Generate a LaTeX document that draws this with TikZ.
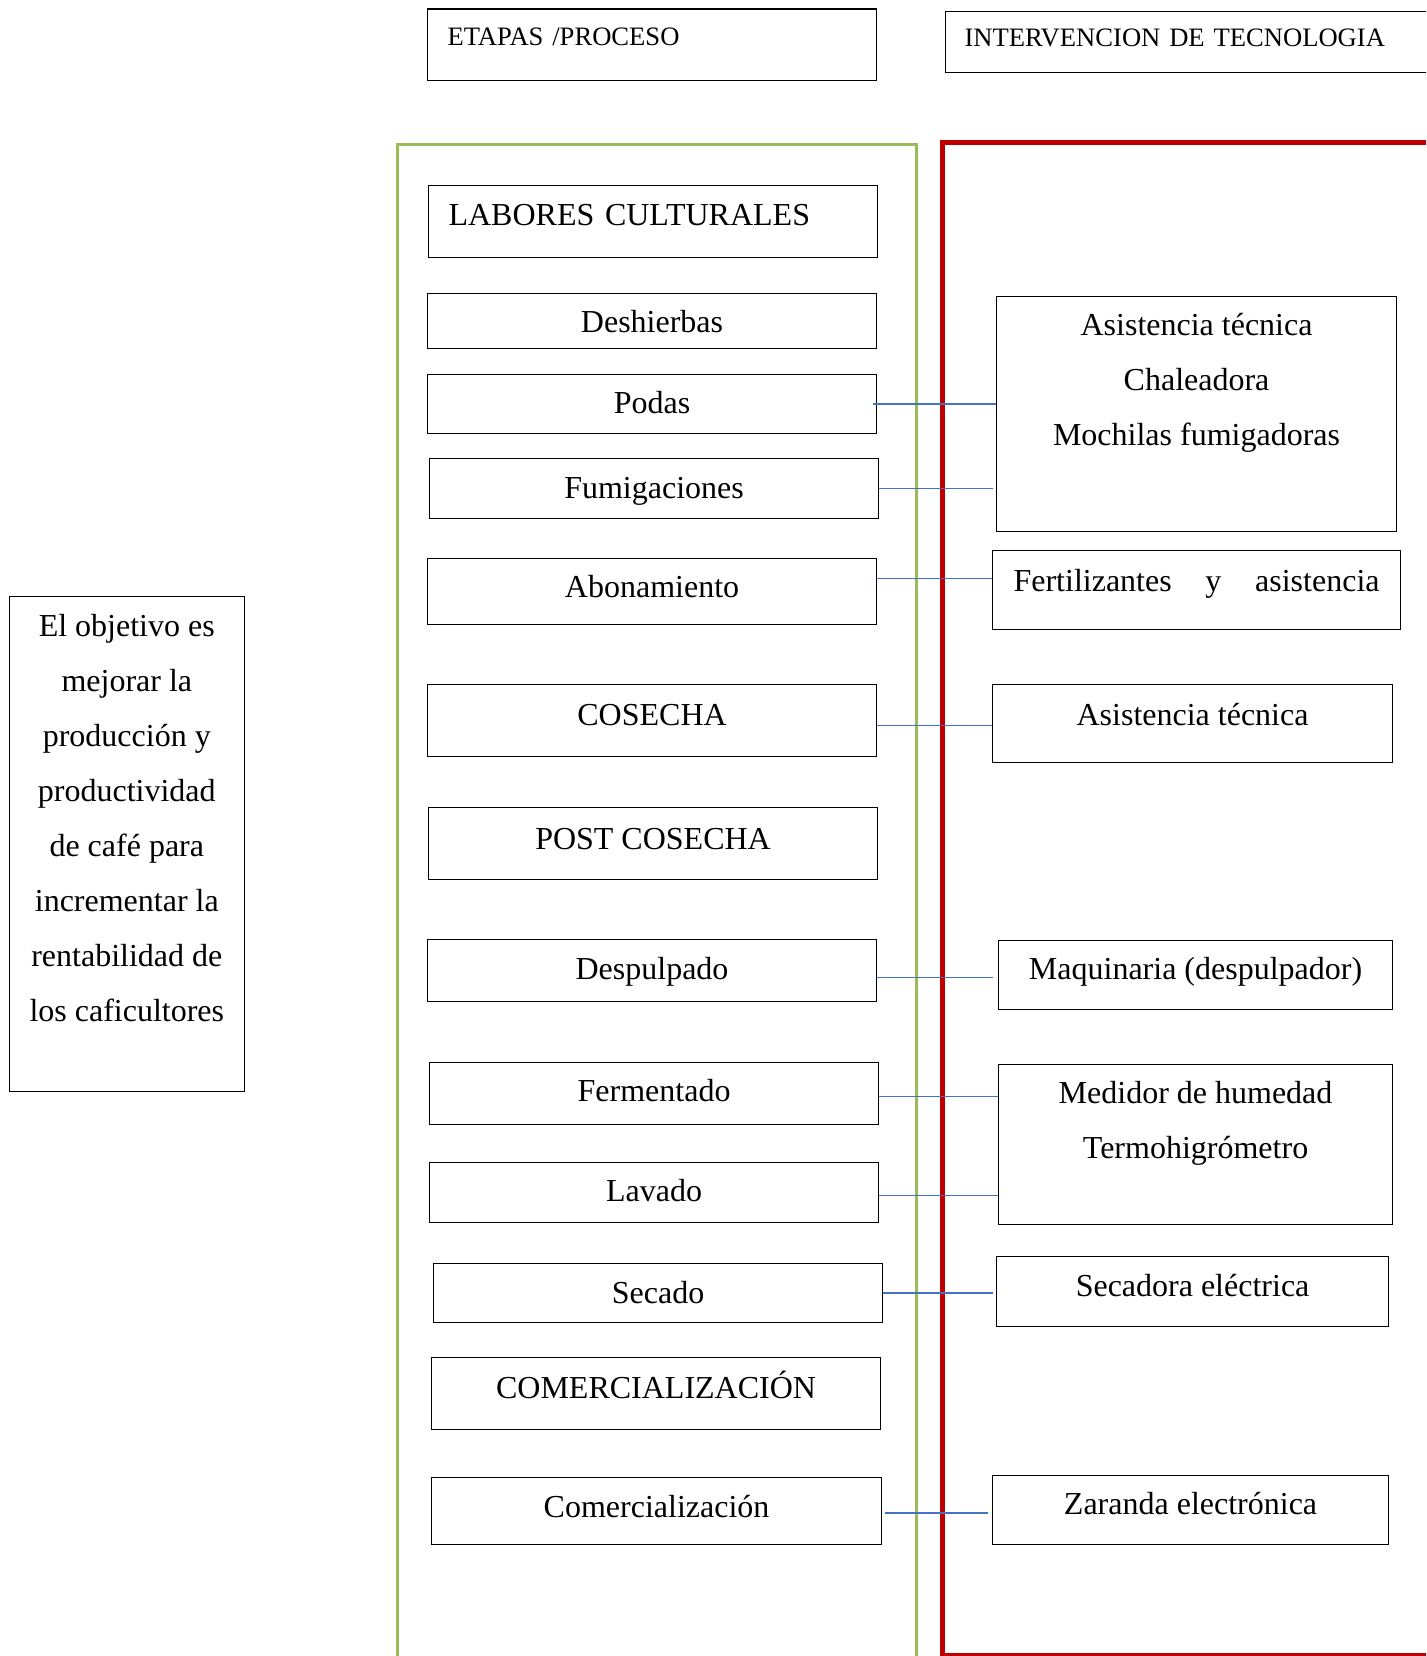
\documentclass[tikz,border=0pt]{standalone}
\usepackage{fontspec}
\setmainfont{Liberation Serif}
\definecolor{linkblue}{RGB}{68,114,196}
\definecolor{framegreen}{RGB}{155,187,89}
\definecolor{framered}{RGB}{192,0,0}
\newcommand\bodyfont{\fontsize{32}{55}\selectfont}
\newcommand\headfont{\fontsize{26.6}{32}\selectfont}
\begin{document}
\begin{tikzpicture}
	[x=1pt,y=-1pt,
	box/.style={rectangle,draw=black,line width=1.1pt,inner sep=0pt,anchor=north west,font=\bodyfont},
	stage/.style={box,minimum width=449pt},
	head/.style={box,font=\headfont,inner xsep=20pt,align=left},
	link/.style={draw=linkblue,line width=1.2pt}
	]
	\useasboundingbox (0,0) rectangle (1426,1656);
	\clip (0,0) rectangle (1426,1656);

	% column frames
	\draw[framegreen,line width=3pt] (397,1700) -- (397,145) -- (916,145) -- (916,1700);
	\draw[framered,line width=5pt] (942,143) rectangle (1450,1655);

	% headers
	\node[head,text width=409pt,text height=36.5pt,text depth=35pt] (etapas) at (427,8.5) {ETAPAS /PROCESO};
	\node[head,inner xsep=19pt,text width=462pt,text height=35.5pt,text depth=26pt] (interv) at (945,10.6) {INTERVENCION DE TECNOLOGIA};

	% objective (multi-line: baseline is the last line)
	\node[box,minimum width=235.5pt,text height=425pt,text depth=70pt,align=center] (goal) at (8.5,596)
		{El objetivo es\\mejorar la\\producción y\\productividad\\de café para\\incrementar la\\rentabilidad de\\los caficultores};

	% stages
	\node[stage,inner xsep=20pt,text width=409pt,align=left,text height=40pt,text depth=32pt] (labores) at (428,185) {LABORES CULTURALES};
	\node[stage,text height=39pt,text depth=16pt] (deshierbas) at (427,293) {Deshierbas};
	\node[stage,text height=39pt,text depth=20pt] (podas) at (427,374) {Podas};
	\node[stage,text height=40pt,text depth=20pt] (fumig) at (429,458) {Fumigaciones};
	\node[stage,text height=39pt,text depth=27pt] (abon) at (427,558) {Abonamiento};
	\node[stage,text height=40.5pt,text depth=31.5pt] (cosecha) at (427,684) {COSECHA};
	\node[stage,text height=41.5pt,text depth=30.5pt] (postcos) at (428,807) {POST COSECHA};
	\node[stage,text height=40pt,text depth=22pt] (desp) at (427,939) {Despulpado};
	\node[stage,text height=39pt,text depth=23pt] (ferm) at (429,1062) {Fermentado};
	\node[stage,text height=39pt,text depth=21pt] (lavado) at (429,1162) {Lavado};
	\node[stage,text height=40pt,text depth=19pt] (secado) at (433,1263) {Secado};
	\node[stage,text height=40.5pt,text depth=31.5pt] (comercC) at (431,1357) {COMERCIALIZACIÓN};
	\node[stage,minimum width=450pt,text height=40pt,text depth=27pt] (comerc) at (431,1477) {Comercialización};

	% technology
	\node[box,minimum width=400pt,text height=149pt,text depth=86pt,align=center] (tecA) at (996,296)
		{Asistencia técnica\\Chaleadora\\Mochilas fumigadoras};
	\node[box,minimum width=408pt,text height=41pt,text depth=38pt] (fert) at (992,550) {\makebox[366pt][s]{Fertilizantes y asistencia}};
	\node[box,minimum width=400pt,text height=41pt,text depth=37pt] (asist) at (992,684) {Asistencia técnica};
	\node[box,minimum width=394pt,text height=39pt,text depth=30pt] (maq) at (998,940) {Maquinaria (despulpador)};
	\node[box,minimum width=394pt,text height=94pt,text depth=66pt,align=center] (medidor) at (998,1064)
		{Medidor de humedad\\Termohigrómetro};
	\node[box,minimum width=392pt,text height=40pt,text depth=30pt] (secadora) at (996,1256) {Secadora eléctrica};
	\node[box,minimum width=396pt,text height=39pt,text depth=30pt] (zaranda) at (992,1475) {Zaranda electrónica};

	% links
	\draw[link,shorten <=-4pt] (podas.east) -- (podas.east -| tecA.west);
	\draw[link,shorten >=3pt] (fumig.east) -- (fumig.east -| tecA.west);
	\draw[link] ([yshift=13pt]abon.east) -- ([yshift=13pt]abon.east -| fert.west);
	\draw[link] ([yshift=-5pt]cosecha.east) -- ([yshift=-5pt]cosecha.east -| asist.west);
	\draw[link,shorten >=5pt] ([yshift=-7pt]desp.east) -- ([yshift=-7pt]desp.east -| maq.west);
	\draw[link] ([yshift=-3pt]ferm.east) -- ([yshift=-3pt]ferm.east -| medidor.west);
	\draw[link] ([yshift=-3pt]lavado.east) -- ([yshift=-3pt]lavado.east -| medidor.west);
	\draw[link,shorten >=3pt] (secado.east) -- (secado.east -| secadora.west);
	\draw[link,shorten <=3pt,shorten >=4pt] ([yshift=-2pt]comerc.east) -- ([yshift=-2pt]comerc.east -| zaranda.west);
\end{tikzpicture}
\end{document}
